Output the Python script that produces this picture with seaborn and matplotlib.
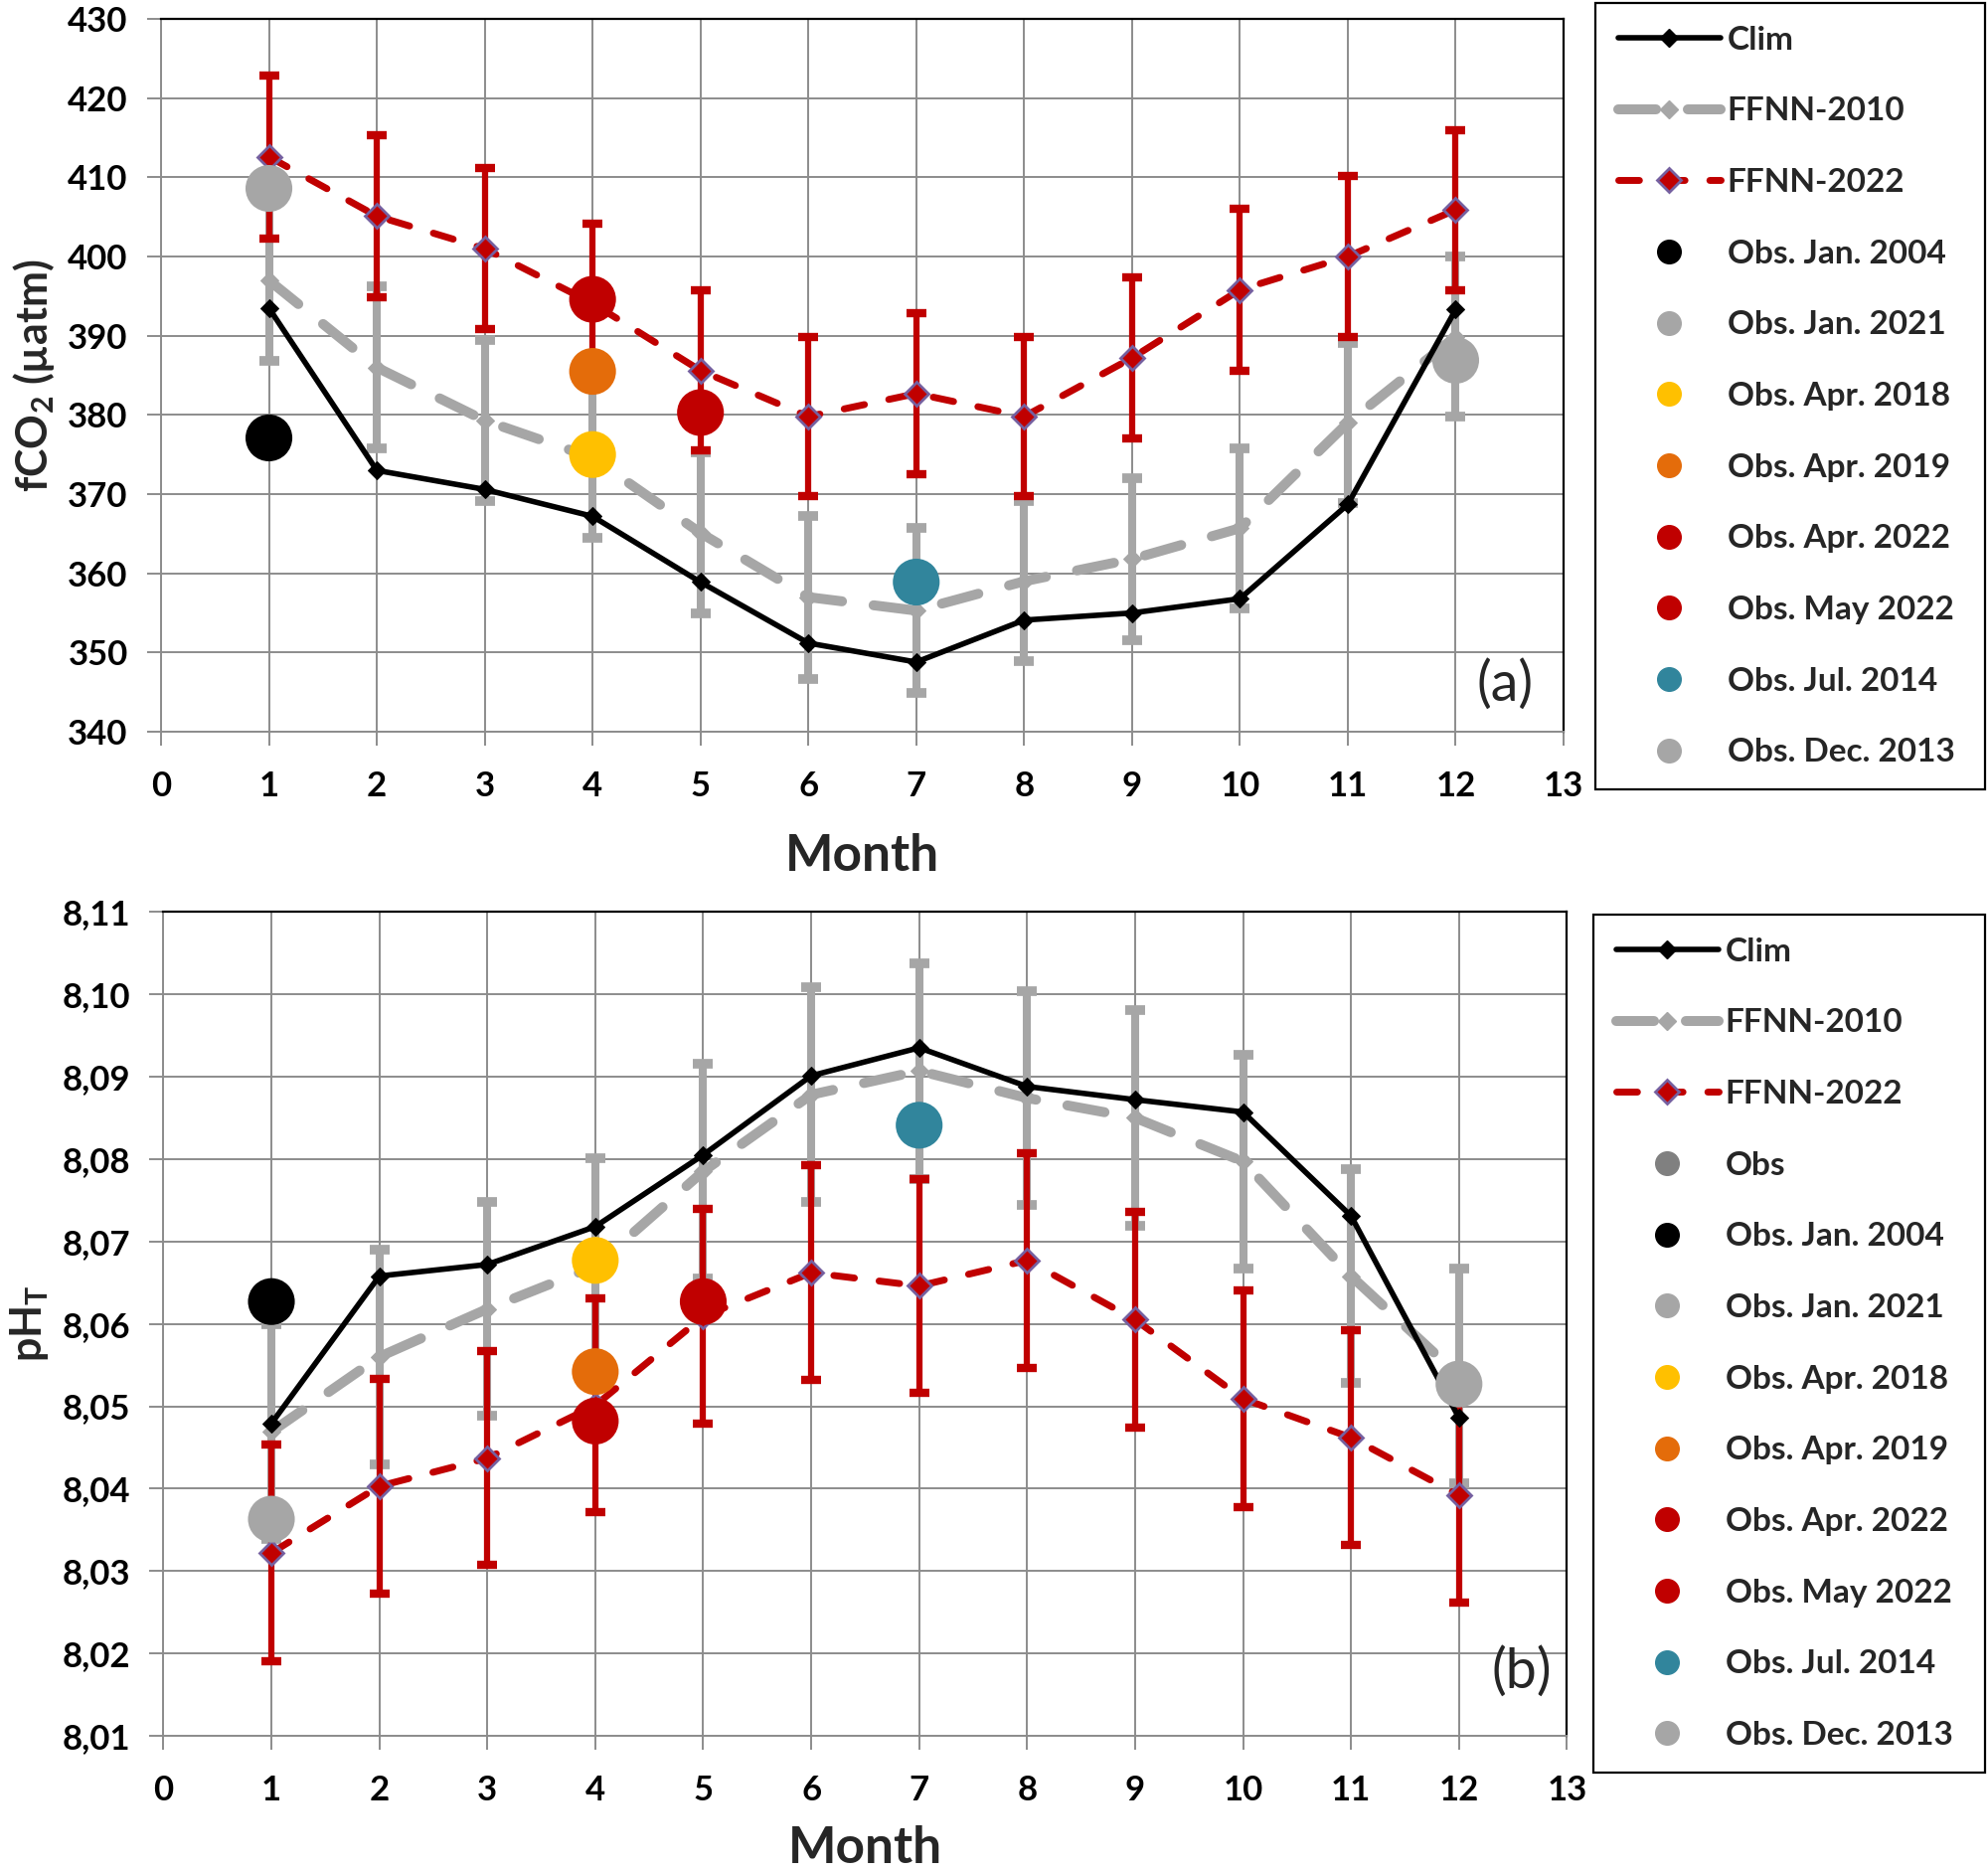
import matplotlib
matplotlib.use("Agg")
import matplotlib.pyplot as plt
from matplotlib.lines import Line2D
from matplotlib.ticker import FuncFormatter, MultipleLocator
import pandas as pd
import seaborn as sns

# ==============================================================================
# 1. DADOS
# ==============================================================================
meses = [1, 2, 3, 4, 5, 6, 7, 8, 9, 10, 11, 12]

# (a) fCO2
clim_fco2 = [393.5, 373.0, 370.6, 367.2, 358.9, 351.2, 348.8, 354.1, 355.0, 356.8, 368.7, 393.3]
ffnn10_fco2 = [397.0, 386.0, 379.3, 374.6, 365.1, 357.0, 355.3, 359.0, 361.8, 365.7, 379.0, 389.9]
ffnn10_fco2_err = [10.2, 10.2, 10.2, 10.1, 10.2, 10.3, 10.4, 10.1, 10.2, 10.1, 10.1, 10.1]
ffnn22_fco2 = [412.6, 405.1, 401.0, 394.1, 385.6, 379.8, 382.7, 379.8, 387.2, 395.8, 400.0, 405.9]
ffnn22_fco2_err = [10.3, 10.2, 10.2, 10.0, 10.1, 10.1, 10.2, 10.1, 10.2, 10.2, 10.2, 10.1]

# (b) pHT
clim_ph = [8.0479, 8.0658, 8.0672, 8.0718, 8.0805, 8.0901, 8.0935, 8.0888, 8.0872, 8.0857, 8.0731, 8.0486]
ffnn10_ph = [8.0469, 8.0560, 8.0618, 8.0670, 8.0785, 8.0878, 8.0907, 8.0874, 8.0850, 8.0797, 8.0658, 8.0537]
ffnn10_ph_err = [0.0130, 0.0130, 0.0130, 0.0131, 0.0130, 0.0130, 0.0131, 0.0130, 0.0131, 0.0130, 0.0130, 0.0130]
ffnn22_ph = [8.0322, 8.0403, 8.0437, 8.0501, 8.0609, 8.0662, 8.0646, 8.0677, 8.0605, 8.0509, 8.0462, 8.0392]
ffnn22_ph_err = [0.0132, 0.0130, 0.0130, 0.0130, 0.0130, 0.0130, 0.0130, 0.0130, 0.0131, 0.0131, 0.0130, 0.0130]

# Observações
obs_nomes = ['Obs. Jan. 2004', 'Obs. Jan. 2021', 'Obs. Apr. 2018', 'Obs. Apr. 2019',
             'Obs. Apr. 2022', 'Obs. May 2022', 'Obs. Jul. 2014', 'Obs. Dec. 2013']
obs_mes = [1, 1, 4, 4, 4, 5, 7, 12]
obs_fco2 = [377.1, 408.6, 375.0, 385.5, 394.6, 380.3, 358.9, 386.9]
obs_ph = [8.0627, 8.0363, 8.0677, 8.0542, 8.0482, 8.0627, 8.0841, 8.0527]
obs_cores = ['#000000', '#A6A6A6', '#FFC000', '#E46C0A', '#C00000', '#C00000', '#31859C', '#A6A6A6']

# ==============================================================================
# 2. ESTILO
# ==============================================================================
sns.set_theme(style="white")
plt.rcParams['font.family'] = ['Lato', 'DejaVu Sans']
plt.rcParams['font.weight'] = 'bold'
plt.rcParams['mathtext.fontset'] = 'custom'
plt.rcParams['mathtext.rm'] = 'Lato'
plt.rcParams['mathtext.it'] = 'Lato:italic'
plt.rcParams['mathtext.bf'] = 'Lato:bold'

PRETO = '#000000'
CINZA = '#A6A6A6'
VERMELHO = '#C00000'
ROXO = '#7560A0'
GRADE = '#8C8C8C'

TRACO_10 = (0, (3.8, 3.2))
TRACO_22 = (0, (3.0, 3.6))

fig = plt.figure(figsize=(20, 18.84), dpi=100)
ax_a = fig.add_axes([0.081, 0.6093, 0.7055, 0.3806])
ax_b = fig.add_axes([0.0822, 0.0732, 0.706, 0.4400])


def desenha(ax, clim, f10, f10e, f22, f22e, obs, clim_top, pad_x):
    df = pd.DataFrame({'mes': meses, 'clim': clim, 'f10': f10, 'f22': f22})
    # barras de erro FFNN-2010
    ax.errorbar(meses, f10, yerr=f10e, fmt='none', ecolor=CINZA, elinewidth=5.8,
                capsize=7, capthick=7, zorder=2)
    sns.lineplot(data=df, x='mes', y='f10', ax=ax, color=CINZA, lw=7.2,
                 linestyle=TRACO_10, dash_capstyle='round',
                 marker='D', ms=9, mec=CINZA, errorbar=None, legend=False, zorder=3)
    # barras de erro FFNN-2022
    ax.errorbar(meses, f22, yerr=f22e, fmt='none', ecolor=VERMELHO, elinewidth=4.5,
                capsize=7, capthick=6, zorder=4)
    sns.lineplot(data=df, x='mes', y='f22', ax=ax, color=VERMELHO, lw=5,
                 linestyle=TRACO_22, dash_capstyle='round',
                 marker='D', ms=12, mec=ROXO, mew=2, errorbar=None, legend=False, zorder=5)
    # observações
    dfo = pd.DataFrame({'mes': obs_mes, 'valor': obs, 'nome': obs_nomes})
    sns.scatterplot(data=dfo, x='mes', y='valor', hue='nome', palette=dict(zip(obs_nomes, obs_cores)),
                    s=1150, edgecolor='none', ax=ax, legend=False, zorder=6)
    # climatologia
    sns.lineplot(data=df, x='mes', y='clim', ax=ax, color=PRETO, lw=4,
                 marker='D', ms=9, mec=PRETO, errorbar=None, legend=False,
                 zorder=7 if clim_top else 5.5)

    ax.set_xlim(0, 13)
    ax.xaxis.set_major_locator(MultipleLocator(1))
    ax.grid(True, color=GRADE, lw=1.4)
    ax.set_axisbelow(True)
    for lado in ['left', 'bottom']:
        ax.spines[lado].set_color(GRADE)
        ax.spines[lado].set_linewidth(1.4)
    for lado in ['top', 'right']:
        ax.spines[lado].set_color(PRETO)
        ax.spines[lado].set_linewidth(1.6)
    ax.tick_params(axis='both', which='major', direction='out', length=10, width=1.4,
                   color=GRADE, labelsize=25, labelcolor=PRETO, bottom=True, left=True)
    ax.tick_params(axis='y', pad=14)
    ax.tick_params(axis='x', pad=18)
    ax.set_xlabel('Month', fontsize=37, fontweight='bold', labelpad=pad_x)


desenha(ax_a, clim_fco2, ffnn10_fco2, ffnn10_fco2_err, ffnn22_fco2, ffnn22_fco2_err, obs_fco2, True, 22)
ax_a.set_ylim(340, 430)
ax_a.yaxis.set_major_locator(MultipleLocator(10))
ax_a.set_ylabel('fCO$_2$ (µatm)', fontsize=31, fontweight='bold', labelpad=8)
ax_a.text(0.958, 0.066, '(a)', transform=ax_a.transAxes, fontsize=40, fontweight='normal',
          ha='center', va='center')

desenha(ax_b, clim_ph, ffnn10_ph, ffnn10_ph_err, ffnn22_ph, ffnn22_ph_err, obs_ph, False, 14)
ax_b.set_ylim(8.01, 8.11)
ax_b.yaxis.set_major_locator(MultipleLocator(0.01))
ax_b.yaxis.set_major_formatter(FuncFormatter(lambda v, p: f'{v:.2f}'.replace('.', ',')))
ax_b.set_ylabel('pH$_\\mathrm{T}$', fontsize=31, fontweight='bold', labelpad=8)
ax_b.text(0.968, 0.078, '(b)', transform=ax_b.transAxes, fontsize=40, fontweight='normal',
          ha='center', va='center')

# ==============================================================================
# 3. LEGENDAS
# ==============================================================================
def handles_linhas():
    return [
        Line2D([], [], color=PRETO, lw=4, marker='D', ms=9, solid_capstyle='round'),
        Line2D([], [], color=CINZA, lw=7.2, ls=TRACO_10, dash_capstyle='round',
               marker='D', ms=9),
        Line2D([], [], color=VERMELHO, lw=5, ls=TRACO_22, dash_capstyle='round',
               marker='D', ms=12, mec=ROXO, mew=2),
    ]


def handles_obs():
    return [Line2D([], [], ls='none', marker='o', ms=17, color=c) for c in obs_cores]


nomes_linhas = ['Clim', 'FFNN-2010', 'FFNN-2022']
opcoes_leg = dict(loc='upper left', mode='expand', borderaxespad=0, fontsize=24,
                  labelspacing=1.28, borderpad=0.68, handlelength=3.1, handletextpad=0.2,
                  fancybox=False, edgecolor=PRETO, framealpha=1)

leg_a = fig.legend(handles_linhas() + handles_obs(), nomes_linhas + obs_nomes,
                   bbox_to_anchor=(0.8025, 0.5801, 0.196, 0.4183), **opcoes_leg)
leg_a.get_frame().set_linewidth(1.6)

leg_b = fig.legend(handles_linhas() + [Line2D([], [], ls='none', marker='o', ms=17, color='#808080')]
                   + handles_obs(),
                   nomes_linhas + ['Obs'] + obs_nomes,
                   bbox_to_anchor=(0.8015, 0.0552, 0.1970, 0.4565), **opcoes_leg)
leg_b.get_frame().set_linewidth(1.6)

fig.savefig('out.png', dpi=100)
